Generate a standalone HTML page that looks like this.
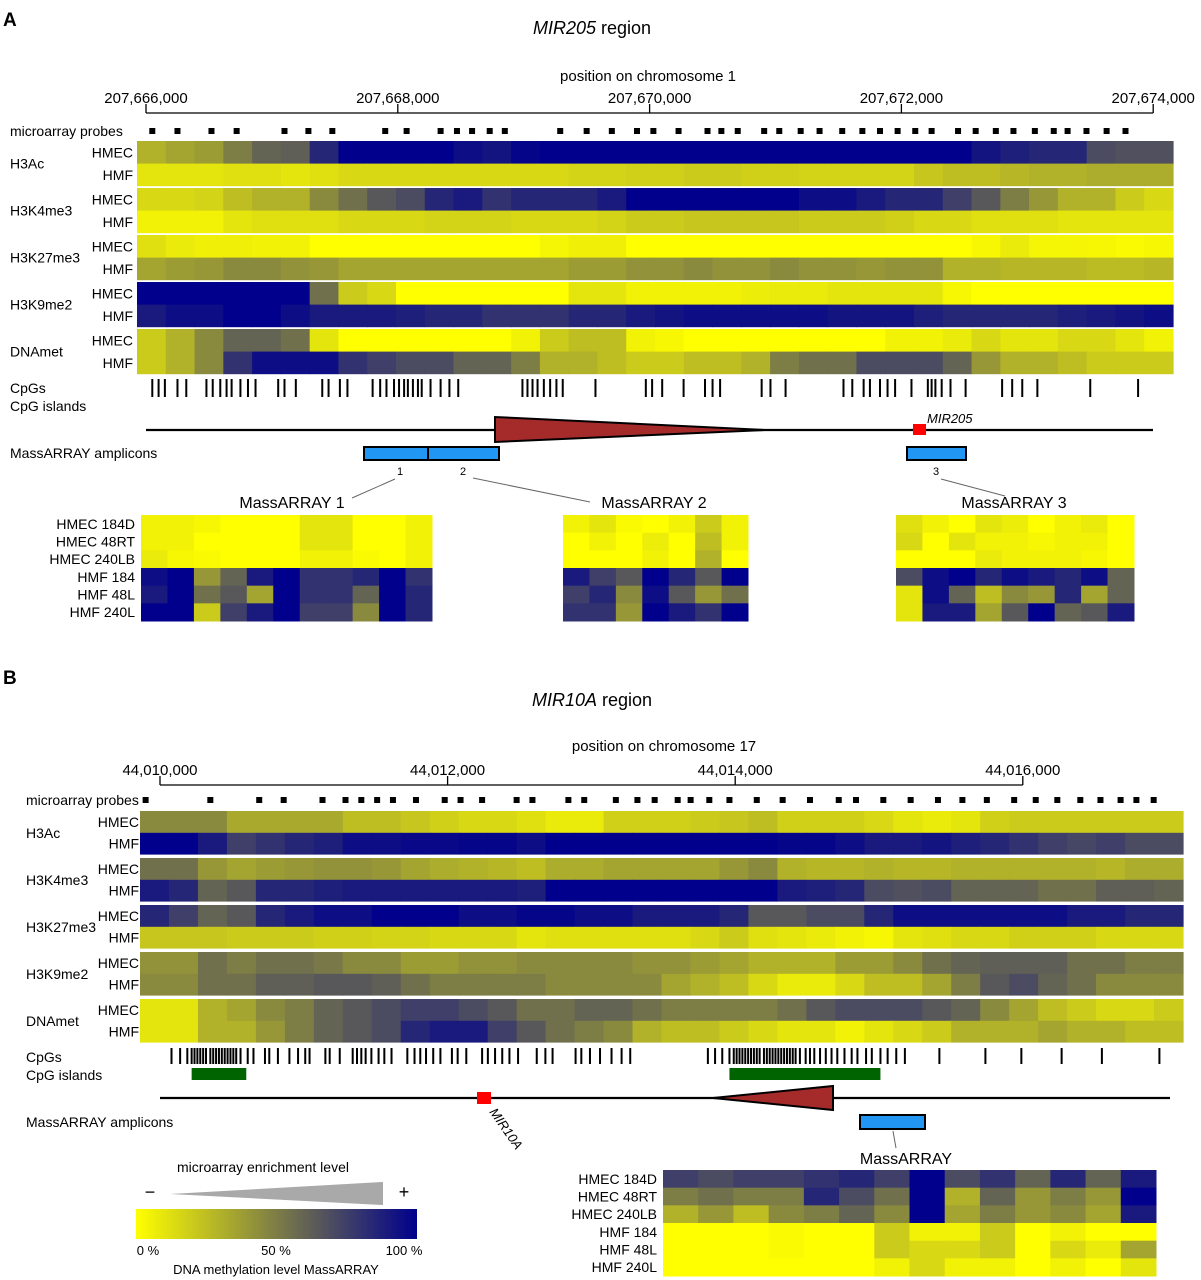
<!DOCTYPE html>
<html><head><meta charset="utf-8">
<style>
html,body{margin:0;padding:0;background:#fff;}
svg{display:block;font-family:"Liberation Sans",Arial,sans-serif;}
</style></head>
<body>
<svg id="fig" width="1201" height="1280" viewBox="0 0 1201 1280" xmlns="http://www.w3.org/2000/svg">
<defs>
<linearGradient id="cbar" x1="0" x2="1" y1="0" y2="0">
<stop offset="0" stop-color="rgb(255,255,0)"/><stop offset="0.5" stop-color="rgb(125,125,70)"/><stop offset="1" stop-color="rgb(0,0,140)"/>
</linearGradient>
</defs>
<g id="static" font-size="14" fill="#000">
<text x="3" y="26" font-size="19" font-weight="bold">A</text>
<text x="592" y="34" font-size="18" text-anchor="middle"><tspan font-style="italic">MIR205</tspan> region</text>
<text x="648" y="81" font-size="15" text-anchor="middle">position on chromosome 1</text>
<text x="3" y="684" font-size="19" font-weight="bold">B</text>
<text x="592" y="706" font-size="18" text-anchor="middle"><tspan font-style="italic">MIR10A</tspan> region</text>
<text x="664" y="751" font-size="15" text-anchor="middle">position on chromosome 17</text>
</g>
<g id="dyn"></g>
</svg>
<script>
// ---------- Panel A data ----------
const tickLabelsA = ["207,666,000","207,668,000","207,670,000","207,672,000","207,674,000"];
const trackGroups = ["H3Ac","H3K4me3","H3K27me3","H3K9me2","DNAmet"];
const a_H3Ac_HMEC = [.3,.35,.38,.5,.6,.62,.85,1,1,1,1,.95,.92,.98,1,1,1,1,1,1,1,1,1,1,1,1,1,1,1,.92,.88,.85,.85,.7,.68,.68];
const a_H3Ac_HMF = [.1,.1,.1,.12,.12,.1,.12,.15,.15,.15,.15,.15,.15,.15,.15,.17,.17,.18,.18,.2,.2,.18,.18,.17,.17,.17,.17,.22,.25,.25,.28,.3,.3,.32,.32,.32];
const a_H3K4me3_HMEC = [.15,.15,.17,.25,.3,.3,.45,.55,.65,.7,.85,.9,.8,.85,.85,.85,.9,1,1,1,1,1,1,.95,.95,.9,.85,.85,.75,.65,.5,.4,.3,.3,.2,.15];
const a_H3K4me3_HMF = [.05,.05,.05,.1,.12,.12,.12,.15,.15,.15,.17,.17,.17,.15,.15,.15,.17,.2,.2,.22,.22,.22,.22,.2,.2,.2,.18,.15,.15,.12,.12,.12,.1,.1,.1,.1];
const a_H3K27me3_HMEC = [.12,.08,.06,.06,.05,.05,0,0,0,0,0,0,0,0,.04,.06,.06,0,0,0,0,0,0,0,0,0,0,0,0,.03,.08,.04,.04,.03,.02,.03];
const a_H3K27me3_HMF = [.35,.38,.4,.45,.45,.42,.4,.35,.35,.35,.35,.35,.35,.35,.35,.38,.38,.42,.42,.45,.42,.42,.45,.42,.42,.4,.42,.42,.3,.3,.28,.28,.28,.26,.26,.28];
const a_H3K9me2_HMEC = [1,1,1,1,1,1,.55,.2,.15,0,0,0,0,0,0,.1,.1,.05,.05,.05,.05,.07,.08,.08,.1,.1,.1,.1,.03,0,0,0,0,0,0,0];
const a_H3K9me2_HMF = [.9,.95,.95,1,1,.95,.9,.9,.9,.88,.85,.85,.8,.8,.8,.85,.85,.9,.92,.95,.95,.95,.95,.95,.92,.92,.92,.88,.85,.85,.85,.85,.88,.9,.92,.95];
const a_DNAmet_HMEC = [.2,.3,.45,.6,.6,.55,.1,0,0,0,0,0,0,.05,.2,.25,.25,.05,.03,0,0,0,0,0,0,0,.05,.05,.08,.15,.1,.1,.15,.15,.1,.05];
const a_DNAmet_HMF = [.2,.3,.45,.8,.95,.95,.95,.8,.75,.7,.7,.6,.6,.5,.3,.3,.25,.2,.2,.25,.25,.3,.5,.55,.55,.7,.7,.7,.6,.4,.3,.3,.25,.2,.2,.2];
const probesA = [.05,.25,.52,.72,1.10,1.29,1.48,1.90,2.07,2.34,2.47,2.59,2.73,2.85,3.29,3.50,3.70,3.90,4.03,4.23,4.46,4.57,4.70,4.91,5.03,5.20,5.35,5.53,5.69,5.83,5.97,6.11,6.24,6.45,6.59,6.75,6.89,7.06,7.21,7.32,7.47,7.63,7.78];
const cpgA = [.05,.10,.15,.25,.32,.48,.53,.59,.64,.68,.75,.81,.87,1.05,1.10,1.19,1.40,1.45,1.54,1.60,1.80,1.86,1.91,1.97,2.01,2.05,2.08,2.12,2.16,2.19,2.26,2.34,2.41,2.48,2.99,3.03,3.07,3.11,3.16,3.21,3.26,3.31,3.57,3.97,4.02,4.10,4.27,4.44,4.50,4.56,4.89,4.96,5.08,5.54,5.61,5.70,5.75,5.83,5.89,5.95,6.08,6.21,6.24,6.27,6.32,6.39,6.51,6.80,6.88,6.96,7.08,7.50,7.88];
const ma1Samples = ["HMEC 184D","HMEC 48RT","HMEC 240LB","HMF 184","HMF 48L","HMF 240L"];
const ma1 = [[.05,.05,.03,0,0,0,.1,.1,0,0,.05],[.05,.05,0,0,0,0,.1,.1,0,0,.05],[.08,.03,.02,0,0,0,.05,.05,.02,0,.05],[.95,1,.4,.6,.9,1,.8,.8,.85,1,.8],[.9,1,.55,.65,.35,1,.8,.8,.6,1,.85],[1,1,.2,.75,.9,1,.75,.75,.45,1,.85]];
const ma2 = [[.05,.1,.02,0,.05,.2,.05],[0,.05,0,.07,0,.25,.05],[0,0,0,.05,0,.3,0],[.9,.75,.65,1,.85,.65,1],[.75,.85,.45,.95,.65,.4,.55],[.8,.8,.4,1,.9,.8,1]];
const ma3 = [[.12,.05,0,.1,.07,0,.05,.08,0],[.15,0,.1,.05,.05,.03,.05,.05,0],[0,0,0,.08,.05,.05,.05,.03,0],[.7,.95,1,.85,.95,.9,.85,.95,.6],[.1,.95,.6,.25,.45,.4,.85,.35,.6],[.1,.9,.9,.35,.65,1,.6,.65,.9]];
// ---------- Panel B data ----------
const tickLabelsB = ["44,010,000","44,012,000","44,014,000","44,016,000"];
const b_H3Ac_HMEC = [.45,.45,.45,.33,.33,.33,.33,.25,.25,.22,.18,.15,.15,.12,.08,.08,.18,.18,.18,.2,.22,.25,.18,.18,.18,.15,.1,.08,.1,.18,.2,.2,.2,.2,.2,.2];
const b_H3Ac_HMF = [1,1,.9,.75,.8,.85,.88,.95,.95,.97,.97,.98,.98,.95,1,1,1,1,1,1,1,1,.98,.98,.95,.9,.9,.92,.88,.85,.8,.75,.72,.75,.7,.7];
const b_H3K4me3_HMEC = [.55,.55,.4,.35,.38,.4,.42,.42,.4,.35,.32,.3,.28,.25,.32,.32,.35,.35,.35,.35,.4,.45,.3,.28,.28,.3,.28,.28,.3,.3,.3,.3,.3,.28,.32,.32];
const b_H3K4me3_HMF = [.9,.85,.6,.65,.85,.85,.88,.9,.9,.9,.9,.9,.9,.88,1,1,1,1,1,1,1,1,.9,.88,.85,.7,.68,.7,.6,.6,.6,.55,.55,.62,.62,.6];
const b_H3K27me3_HMEC = [.85,.75,.6,.65,.85,.9,.95,.95,1,1,1,.95,.95,.98,.98,.95,.95,.9,.9,.9,.85,.65,.65,.7,.7,.85,.95,.95,.95,.95,.95,.95,.9,.9,.85,.85];
const b_H3K27me3_HMF = [.22,.22,.22,.2,.2,.2,.18,.18,.17,.17,.15,.15,.15,.1,.12,.12,.12,.12,.12,.15,.2,.12,.1,.08,.05,.03,.1,.12,.15,.15,.18,.18,.18,.15,.15,.15];
const b_H3K9me2_HMEC = [.42,.42,.55,.5,.55,.55,.52,.45,.45,.38,.38,.42,.42,.45,.45,.45,.45,.42,.42,.38,.35,.3,.3,.3,.38,.38,.45,.55,.6,.62,.62,.62,.55,.55,.5,.5];
const b_H3K9me2_HMF = [.45,.45,.55,.55,.62,.62,.65,.65,.62,.55,.5,.5,.5,.5,.45,.45,.45,.45,.35,.3,.25,.15,.08,.08,.15,.25,.25,.35,.5,.65,.7,.6,.55,.45,.45,.45];
const b_DNAmet_HMEC = [.1,.1,.3,.35,.45,.5,.6,.65,.7,.75,.75,.7,.65,.55,.55,.6,.6,.55,.5,.5,.5,.5,.55,.65,.7,.7,.7,.65,.6,.45,.35,.25,.2,.15,.15,.2];
const b_DNAmet_HMF = [.1,.1,.3,.3,.4,.5,.6,.65,.7,.85,.9,.9,.75,.65,.55,.5,.45,.3,.25,.25,.2,.15,.1,.1,.05,.1,.15,.2,.3,.3,.3,.35,.3,.3,.25,.25];
const probesB = [-.10,.35,.69,.86,1.13,1.29,1.40,1.51,1.62,1.78,1.98,2.09,2.24,2.48,2.59,2.84,2.95,3.17,3.32,3.44,3.60,3.69,3.82,3.96,4.15,4.33,4.52,4.72,4.84,5.03,5.22,5.41,5.58,5.75,5.94,6.09,6.24,6.40,6.54,6.68,6.79,6.91];
const cpgB = [.08,.14,.19,.22,.24,.26,.28,.30,.32,.35,.37,.39,.41,.43,.45,.47,.49,.51,.53,.56,.61,.65,.73,.76,.82,.90,.96,1.01,1.04,1.15,1.18,1.25,1.34,1.37,1.40,1.43,1.47,1.52,1.56,1.61,1.72,1.77,1.81,1.85,1.90,1.95,2.03,2.07,2.13,2.24,2.28,2.33,2.38,2.43,2.49,2.62,2.68,2.73,2.89,2.93,2.99,3.06,3.14,3.21,3.27,3.81,3.86,3.91,3.96,3.99,4.01,4.03,4.05,4.07,4.09,4.11,4.13,4.15,4.17,4.20,4.22,4.24,4.26,4.28,4.30,4.32,4.34,4.36,4.38,4.40,4.42,4.45,4.49,4.52,4.55,4.59,4.63,4.67,4.71,4.76,4.81,4.85,4.91,4.95,5.01,5.06,5.12,5.18,5.42,5.74,5.99,6.27,6.55,6.95];
const mbSamples = ["HMEC 184D","HMEC 48RT","HMEC 240LB","HMF 184","HMF 48L","HMF 240L"];
const mb = [[.75,.7,.75,.75,.8,.85,.75,1,.7,.8,.6,.85,.6,.9],[.5,.55,.5,.5,.85,.7,.55,1,.3,.6,.4,.5,.4,1],[.3,.4,.25,.45,.5,.6,.45,1,.35,.5,.4,.45,.35,.9],[0,0,0,.02,0,0,.2,.05,.05,.2,0,.05,0,0],[0,0,0,.02,0,0,.2,.15,.15,.2,0,.15,.08,.35],[0,0,0,0,0,0,.05,.15,.05,.05,0,.05,0,.1]];

const NS="http://www.w3.org/2000/svg";
const root=document.getElementById('dyn');
function el(tag,attrs,parent){const e=document.createElementNS(NS,tag);for(const k in attrs)e.setAttribute(k,attrs[k]);(parent||root).appendChild(e);return e;}
function txt(s,attrs,parent){const e=el('text',attrs,parent);e.textContent=s;return e;}
function color(v){v=Math.max(0,Math.min(1,v));let a,b,t;
 if(v<.5){a=[255,255,0];b=[125,125,70];t=v/.5;}else{a=[125,125,70];b=[0,0,140];t=(v-.5)/.5;}
 return 'rgb('+a.map((c,i)=>Math.round(c+(b[i]-c)*t)).join(',')+')';}

const xA = kb => 146 + kb*125.9;
const xB = kb => 160 + kb*143.8;

function axis(x, labels, y, span){
  const g=el('g',{});
  
  
  el('line',{x1:x(0),x2:x(span),y1:y,y2:y,stroke:'#000','stroke-width':1.3},g);
  labels.forEach((l,i)=>{const px=x(i*2);
    el('line',{x1:px,x2:px,y1:y,y2:y-9,stroke:'#000','stroke-width':1.3},g);
    const t=txt(l,{x:px,y:y-10,'font-size':15,'text-anchor':'middle'},g);
    
    
  });
}
function probes(x, arr, y, label, lx){
  const t=txt(label,{x:lx,y:y+5,'font-size':14});
  
  
  arr.forEach(p=>{const r=el('rect',{x:x(p)-3,y:y-3,width:6,height:6,fill:'#000'});
    
    });
}
function heat(rows, x0, x1, tops, hgt, grpLabelX, subRightX, prefix){
  rows.forEach((pair,gi)=>{
    pair.forEach((vals,si)=>{
      const y=tops[gi]+si*hgt; const w=(x1-x0)/vals.length;
      vals.forEach((v,i)=>{const r=el('rect',{x:x0+i*w,y:y,width:w+0.6,height:hgt+(si==0?0.4:0),fill:color(v)});
        
        });
      const t=txt(si==0?'HMEC':'HMF',{x:subRightX,y:y+hgt/2+5,'font-size':14,'text-anchor':'end'});
      
      
    });
    const t=txt(trackGroups[gi],{x:grpLabelX,y:tops[gi]+hgt+5,'font-size':14});
    
    
  });
}
function cpgs(x,arr,y0,y1){arr.forEach(p=>{const r=el('rect',{x:x(p)-1,y:y0,width:2,height:y1-y0,fill:'#000'});
  
  });}
function mheat(m, x0, x1, y0, y1, labels){
  const rh=(y1-y0)/m.length;
  m.forEach((row,ri)=>{const w=(x1-x0)/row.length;
    row.forEach((v,i)=>{const r=el('rect',{x:x0+i*w,y:y0+ri*rh,width:w+0.5,height:rh+0.5,fill:color(v)});
      
      });
    if(labels){const t=txt(labels[ri],{x:x0-6,y:y0+ri*rh+rh/2+5,'font-size':14,'text-anchor':'end'});
      
      }
  });
}
function label(s,x,y,fs,anchor,name,extra){const t=txt(s,Object.assign({x:x,y:y,'font-size':fs,'text-anchor':anchor||'start'},extra||{}));
  
  return t;}

// ---------- Panel A ----------
axis(xA,tickLabelsA,113,8);
probes(xA,probesA,131,'microarray probes',10);
heat([[a_H3Ac_HMEC,a_H3Ac_HMF],[a_H3K4me3_HMEC,a_H3K4me3_HMF],[a_H3K27me3_HMEC,a_H3K27me3_HMF],[a_H3K9me2_HMEC,a_H3K9me2_HMF],[a_DNAmet_HMEC,a_DNAmet_HMF]],
  137,1173,[141,188,235,282,329],22.6,10,133,'a');
label('CpGs',10,393,14,'start','cpgs-label');
label('CpG islands',10,411,14,'start','cpg-islands-label');
cpgs(xA,cpgA,379,397);
let ln=el('line',{x1:146,x2:1153,y1:430,y2:430,stroke:'#000','stroke-width':2.2});

let tri=el('polygon',{points:'495,417 495,442 765,430',fill:'#a52a2a',stroke:'#000','stroke-width':2});

let mir=el('rect',{x:913,y:424,width:13,height:11,fill:'#ff0000'});

label('MIR205',927,423,13,'start','mir205-label',{'font-style':'italic'});
label('MassARRAY amplicons',10,458,14,'start','amplicons-label');
[[364,428],[428,499],[907,966]].forEach((a,i)=>{const r=el('rect',{x:a[0],y:447,width:a[1]-a[0],height:13,fill:'#2196f3',stroke:'#000','stroke-width':2});
  });
label('1',400,475,11,'middle','amplicon-1-number');
label('2',463,475,11,'middle','amplicon-2-number');
label('3',936,475,11,'middle','amplicon-3-number');
[[395,479,352,498],[473,478,590,502],[941,479,1005,496]].forEach(l=>{const e=el('line',{x1:l[0],y1:l[1],x2:l[2],y2:l[3],stroke:'#666','stroke-width':1});
  });
label('MassARRAY 1',292,508,16,'middle','massarray-1-title');
label('MassARRAY 2',654,508,16,'middle','massarray-2-title');
label('MassARRAY 3',1014,508,16,'middle','massarray-3-title');
mheat(ma1,141,432,515,621,ma1Samples);
mheat(ma2,563,748,515,621,null);
mheat(ma3,896,1134,515,621,null);

// ---------- Panel B ----------
axis(xB,tickLabelsB,785,6);
probes(xB,probesB,800,'microarray probes',26);
heat([[b_H3Ac_HMEC,b_H3Ac_HMF],[b_H3K4me3_HMEC,b_H3K4me3_HMF],[b_H3K27me3_HMEC,b_H3K27me3_HMF],[b_H3K9me2_HMEC,b_H3K9me2_HMF],[b_DNAmet_HMEC,b_DNAmet_HMF]],
  140,1183,[811,858,905,952,999],21.8,26,139,'b');
label('CpGs',26,1062,14,'start','cpgs-label-b');
label('CpG islands',26,1080,14,'start','cpg-islands-label-b');
cpgs(xB,cpgB,1048,1064);
[[.22,.6],[3.96,5.01]].forEach(c=>{const r=el('rect',{x:xB(c[0]),y:1068,width:xB(c[1])-xB(c[0]),height:12,fill:'#006400'});
  });
ln=el('line',{x1:160,x2:1170,y1:1098,y2:1098,stroke:'#000','stroke-width':2.2});

tri=el('polygon',{points:'713,1098 833,1086 833,1110',fill:'#a52a2a',stroke:'#000','stroke-width':2});

mir=el('rect',{x:477,y:1092,width:14,height:12,fill:'#ff0000'});

label('MIR10A',489,1112,13,'start','mir10a-label',{'font-style':'italic',transform:'rotate(55 489 1112)'});
label('MassARRAY amplicons',26,1127,14,'start','amplicons-label-b');
let amp=el('rect',{x:860,y:1115,width:65,height:14,fill:'#2196f3',stroke:'#000','stroke-width':2});

let cl=el('line',{x1:893,y1:1131,x2:896,y2:1148,stroke:'#666','stroke-width':1});

label('MassARRAY',906,1164,16,'middle','massarray-b-title');
mheat(mb,663,1156,1170,1276,mbSamples);

// ---------- Legend ----------
label('microarray enrichment level',263,1172,14,'middle','legend-enrichment-title');
label('−',150,1198,18,'middle','legend-minus');
label('+',404,1198,18,'middle','legend-plus');
let lt=el('polygon',{points:'170,1194 383,1182 383,1205',fill:'#a9a9a9'});

let cb=el('rect',{x:136,y:1209,width:281,height:30,fill:'url(#cbar)'});

label('0 %',148,1255,13,'middle','colorbar-label-0');
label('50 %',276,1255,13,'middle','colorbar-label-50');
label('100 %',404,1255,13,'middle','colorbar-label-100');
label('DNA methylation level MassARRAY',276,1274,13,'middle','colorbar-title');
</script>
</body></html>
